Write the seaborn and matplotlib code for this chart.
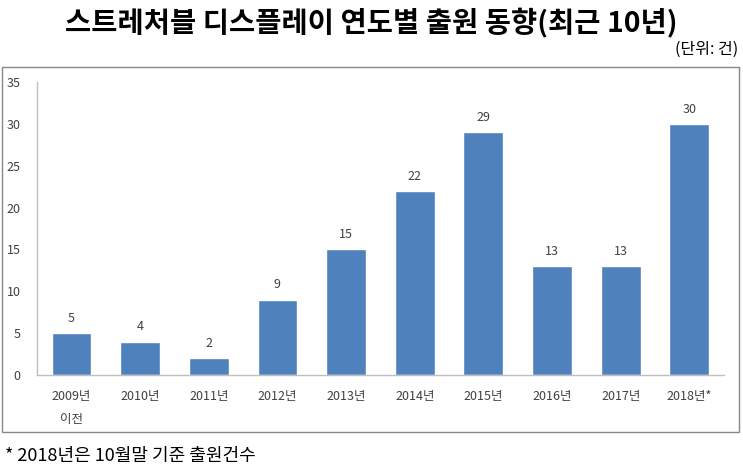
import matplotlib
matplotlib.use("Agg")
import matplotlib.pyplot as plt
import seaborn as sns
import pandas as pd
from matplotlib.patches import Rectangle

years = ["2009년\n이전", "2010년", "2011년", "2012년", "2013년", "2014년",
         "2015년", "2016년", "2017년", "2018년*"]
counts = [5, 4, 2, 9, 15, 22, 29, 13, 13, 30]
yticks = [0, 5, 10, 15, 20, 25, 30, 35]

title = "스트레처블 디스플레이 연도별 출원 동향(최근 10년)"
unit = "(단위: 건)"
note = "* 2018년은 10월말 기준 출원건수"

sns.set_theme(style="white")
plt.rcParams['font.family'] = ['Noto Sans CJK KR', 'DejaVu Sans']

df = pd.DataFrame({"year": years, "count": counts})

fig = plt.figure(figsize=(7.43, 4.70), dpi=100)
ax = fig.add_axes([0.050, 0.202, 0.924, 0.6235])

sns.barplot(data=df, x="year", y="count", color="#4F81BD", width=0.58,
            saturation=1, ax=ax)

for i, v in enumerate(counts):
    ax.annotate(str(v), (i, v), xytext=(0, 6), textcoords="offset points",
                ha="center", va="bottom", fontsize=9, color="#404040")

ax.set_ylim(0, 35)
ax.set_yticks(yticks)
ax.set_xlim(-0.5, len(years) - 0.5)
ax.set_xlabel("")
ax.set_ylabel("")
ax.tick_params(axis="y", labelsize=9, colors="#404040", length=0, pad=12)
ax.tick_params(axis="x", labelsize=9, colors="#404040", length=0, pad=11)
for lbl in ax.get_xticklabels():
    lbl.set_linespacing(2.0)
    lbl.set_verticalalignment("top")
for s in ["top", "right"]:
    ax.spines[s].set_visible(False)
for s in ["left", "bottom"]:
    ax.spines[s].set_color("#BFBFBF")
    ax.spines[s].set_linewidth(1.0)

# outer chart frame
fig.patches.append(Rectangle((2 / 743, 1 - 432 / 470), 737 / 743, 365 / 470,
                             transform=fig.transFigure, fill=False,
                             edgecolor="#888888", linewidth=1.0))

fig.text(0.5, 1 - 22 / 470, title, ha="center", va="center",
         fontsize=20.5, fontweight="bold", color="black")
fig.text(0.994, 1 - 49 / 470, unit, ha="right", va="center",
         fontsize=11.5, color="black")
fig.text(5 / 743, 1 - 456 / 470, note, ha="left", va="center",
         fontsize=13, color="black")

fig.savefig("out.png", dpi=100)
